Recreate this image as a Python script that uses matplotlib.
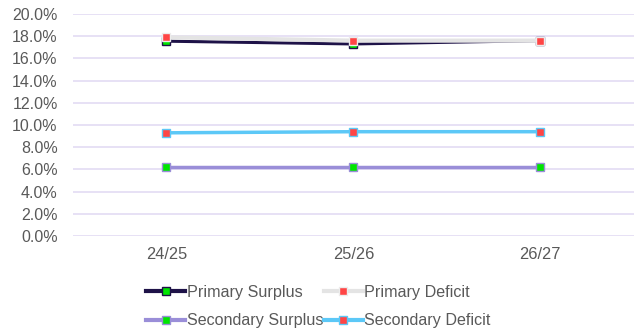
import numpy as np
import matplotlib.pyplot as plt
from matplotlib.ticker import PercentFormatter

plt.rcParams['font.family'] = ['Liberation Sans', 'DejaVu Sans']

years = ["24/25", "25/26", "26/27"]
primary_surplus = [17.55, 17.3, 17.6]
primary_deficit = [17.9, 17.6, 17.6]
secondary_surplus = [6.2, 6.2, 6.2]
secondary_deficit = [9.3, 9.4, 9.4]

GREEN = "#00e600"
RED = "#ff4545"

series = [
	("Primary Surplus", primary_surplus, "#1e1248", GREEN, "#1e1248", 2.2),
	("Primary Deficit", primary_deficit, "#e4e4e4", RED, "#ececec", 3.0),
	("Secondary Surplus", secondary_surplus, "#9a8ed8", GREEN, "#9a8ed8", 2.5),
	("Secondary Deficit", secondary_deficit, "#5cc8f7", RED, "#5cc8f7", 2.5),
]

fig = plt.figure(figsize=(6.37, 3.33), dpi=100)
ax = fig.add_axes([0.1146, 0.291, 0.8804, 0.667])

x = np.arange(len(years))
order = [1, 0, 2, 3]
handles = {}
for idx in order:
	name, vals, lc, mfc, mec, lw = series[idx]
	h, = ax.plot(x, vals, color=lc, lw=lw, marker="s", markersize=6,
				 markerfacecolor=mfc, markeredgecolor=mec, markeredgewidth=1.0,
				 label=name, zorder=3 + idx)
	handles[idx] = h

ax.set_xlim(-0.5, len(years) - 0.5)
ax.set_ylim(0, 20)
ax.set_yticks(np.arange(0, 20.1, 2))
ax.yaxis.set_major_formatter(PercentFormatter(decimals=1))
ax.set_xticks(x)
ax.set_xticklabels(years)
ax.grid(axis="y", color="#e3dbf3", lw=1.2)
ax.set_axisbelow(True)
for s in ax.spines.values():
	s.set_visible(False)
ax.tick_params(length=0, labelcolor="#595959")
ax.tick_params(axis="y", labelsize=11.5, pad=11)
ax.tick_params(axis="x", labelsize=11.8, pad=8)

# legend fills column by column, so list items to read row-wise
leg_order = [0, 2, 1, 3]
leg = fig.legend([handles[i] for i in leg_order], [series[i][0] for i in leg_order],
				 loc="center", bbox_to_anchor=(0.5, 0.08), ncol=2, frameon=False,
				 fontsize=11.6, labelcolor="#595959", handlelength=2.4, handletextpad=0.1,
				 columnspacing=0.05, borderaxespad=0, labelspacing=0.85)
for h in leg.legend_handles:
	h.set_linewidth(3)

fig.savefig("out.png", dpi=100)
